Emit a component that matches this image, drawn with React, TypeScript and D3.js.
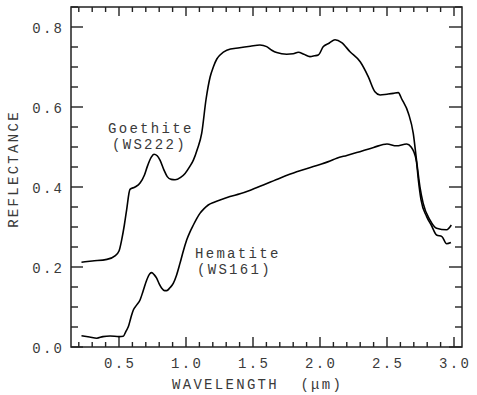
import React from 'react';
import * as d3 from 'd3';

// wavelength (um) / reflectance
const goethiteX = [0.22, 0.3, 0.41, 0.47, 0.5, 0.52, 0.54, 0.557, 0.582, 0.62, 0.657, 0.69, 0.711, 0.74, 0.761, 0.785, 0.806, 0.835, 0.86, 0.89, 0.918, 0.96, 0.993, 1.03, 1.055, 1.085, 1.117, 1.15, 1.18, 1.204, 1.23, 1.254, 1.304, 1.4, 1.48, 1.552, 1.602, 1.64, 1.677, 1.751, 1.8, 1.838, 1.88, 1.925, 1.96, 1.987, 2.025, 2.07, 2.112, 2.162, 2.224, 2.3, 2.36, 2.41, 2.448, 2.5, 2.547, 2.584, 2.61, 2.66, 2.696, 2.72, 2.746, 2.77, 2.82, 2.87, 2.945, 2.98];
const goethiteY = [0.212, 0.215, 0.219, 0.228, 0.24, 0.268, 0.305, 0.343, 0.394, 0.4, 0.41, 0.43, 0.451, 0.474, 0.482, 0.478, 0.467, 0.443, 0.426, 0.419, 0.418, 0.424, 0.434, 0.452, 0.467, 0.495, 0.534, 0.62, 0.675, 0.7, 0.72, 0.73, 0.742, 0.748, 0.752, 0.755, 0.751, 0.742, 0.736, 0.732, 0.733, 0.737, 0.732, 0.726, 0.728, 0.73, 0.751, 0.76, 0.768, 0.761, 0.738, 0.713, 0.676, 0.638, 0.63, 0.632, 0.634, 0.636, 0.62, 0.584, 0.534, 0.468, 0.4, 0.359, 0.318, 0.297, 0.293, 0.305];

const hematiteX = [0.22, 0.28, 0.334, 0.38, 0.433, 0.5, 0.532, 0.55, 0.57, 0.59, 0.607, 0.63, 0.657, 0.68, 0.707, 0.73, 0.744, 0.762, 0.781, 0.8, 0.819, 0.84, 0.856, 0.88, 0.905, 0.93, 0.955, 0.98, 1.005, 1.03, 1.055, 1.08, 1.104, 1.135, 1.166, 1.21, 1.254, 1.328, 1.403, 1.48, 1.577, 1.7, 1.826, 1.95, 2.075, 2.125, 2.2, 2.274, 2.4, 2.5, 2.57, 2.647, 2.68, 2.7, 2.72, 2.734, 2.754, 2.796, 2.83, 2.87, 2.91, 2.945, 2.977];
const hematiteY = [0.028, 0.025, 0.022, 0.026, 0.0275, 0.026, 0.027, 0.038, 0.051, 0.075, 0.0925, 0.104, 0.1175, 0.14, 0.1675, 0.183, 0.186, 0.181, 0.172, 0.158, 0.147, 0.141, 0.141, 0.148, 0.159, 0.18, 0.209, 0.24, 0.2675, 0.288, 0.305, 0.321, 0.334, 0.346, 0.355, 0.362, 0.3675, 0.376, 0.383, 0.392, 0.405, 0.422, 0.438, 0.451, 0.465, 0.472, 0.479, 0.486, 0.499, 0.5075, 0.503, 0.5075, 0.5, 0.488, 0.463, 0.418, 0.368, 0.326, 0.305, 0.28, 0.276, 0.258, 0.261];

const xTickLabels = ['0.5', '1.0', '1.5', '2.0', '2.5', '3.0'];
const yTickLabels = ['0.0', '0.2', '0.4', '0.6', '0.8'];

const W = 477;
const H = 395;
const left = 71, right = 462, top = 7, bottom = 347;
const ls = 2.3;
const font = '"Liberation Mono", "DejaVu Sans Mono", monospace';
const textColor = '#3a3a3a';

export default function App() {
  const x = d3.scaleLinear().domain([0.1418, 3.0597]).range([left, right]);
  const y = d3.scaleLinear().domain([0, 0.85]).range([bottom, top]);

  const line = d3.line<[number, number]>()
    .x(d => x(d[0]))
    .y(d => y(d[1]))
    .curve(d3.curveMonotoneX);

  const goethite = goethiteX.map((v, i) => [v, goethiteY[i]] as [number, number]);
  const hematite = hematiteX.map((v, i) => [v, hematiteY[i]] as [number, number]);

  const xMinor = x.ticks(30);
  const xMajor = xTickLabels.map(Number);
  const yMinor = y.ticks(17);
  const yMajor = yTickLabels.map(Number);

  const isMajor = (v: number, arr: number[]) => arr.some(a => Math.abs(a - v) < 1e-6);

  return (
    <svg width={W} height={H} style={{ position: 'absolute', left: 0, top: 0, background: '#fff' }}>
      {/* frame */}
      <rect x={left} y={top} width={right - left} height={bottom - top}
        fill="none" stroke="#222" strokeWidth={1.5} />

      {/* x ticks, bottom and top, pointing in */}
      {xMinor.map(v => {
        const m = isMajor(v, xMajor);
        return (
          <g key={'x' + v} stroke="#222" strokeWidth={1.4}>
            <line x1={x(v)} x2={x(v)} y1={bottom} y2={bottom - (m ? 10 : 5)} />
            <line x1={x(v)} x2={x(v)} y1={top} y2={top + (m ? 9 : 5)} />
          </g>
        );
      })}

      {/* y ticks, left and right */}
      {yMinor.map(v => {
        const m = isMajor(v, yMajor);
        return (
          <g key={'y' + v} stroke="#222" strokeWidth={1.4}>
            <line x1={left} x2={left + (m ? 12 : 7)} y1={y(v)} y2={y(v)} />
            <line x1={right} x2={right - (m ? 13 : 7)} y1={y(v)} y2={y(v)} />
          </g>
        );
      })}

      <g fontFamily={font} fontSize={14} fill={textColor} letterSpacing={ls}>
        {xTickLabels.map(t => (
          <text key={t} x={x(+t) + ls / 2} y={368} textAnchor="middle">{t}</text>
        ))}
        {yTickLabels.map(t => (
          <text key={t} x={62 + ls} y={y(+t) + 6} textAnchor="end">{t}</text>
        ))}
        <text x={172} y={389} style={{ whiteSpace: 'pre' }}>{'WAVELENGTH  (\u03bcm)'}</text>
        <text transform={`translate(18,${169}) rotate(-90)`} textAnchor="middle">REFLECTANCE</text>

        <text x={108} y={133}>Goethite</text>
        <text x={112} y={149}>(WS222)</text>
        <text x={195} y={258}>Hematite</text>
        <text x={197} y={274}>(WS161)</text>
      </g>

      <path d={line(goethite) ?? ''} fill="none" stroke="#000" strokeWidth={1.6} strokeLinejoin="round" />
      <path d={line(hematite) ?? ''} fill="none" stroke="#000" strokeWidth={1.6} strokeLinejoin="round" />
    </svg>
  );
}
